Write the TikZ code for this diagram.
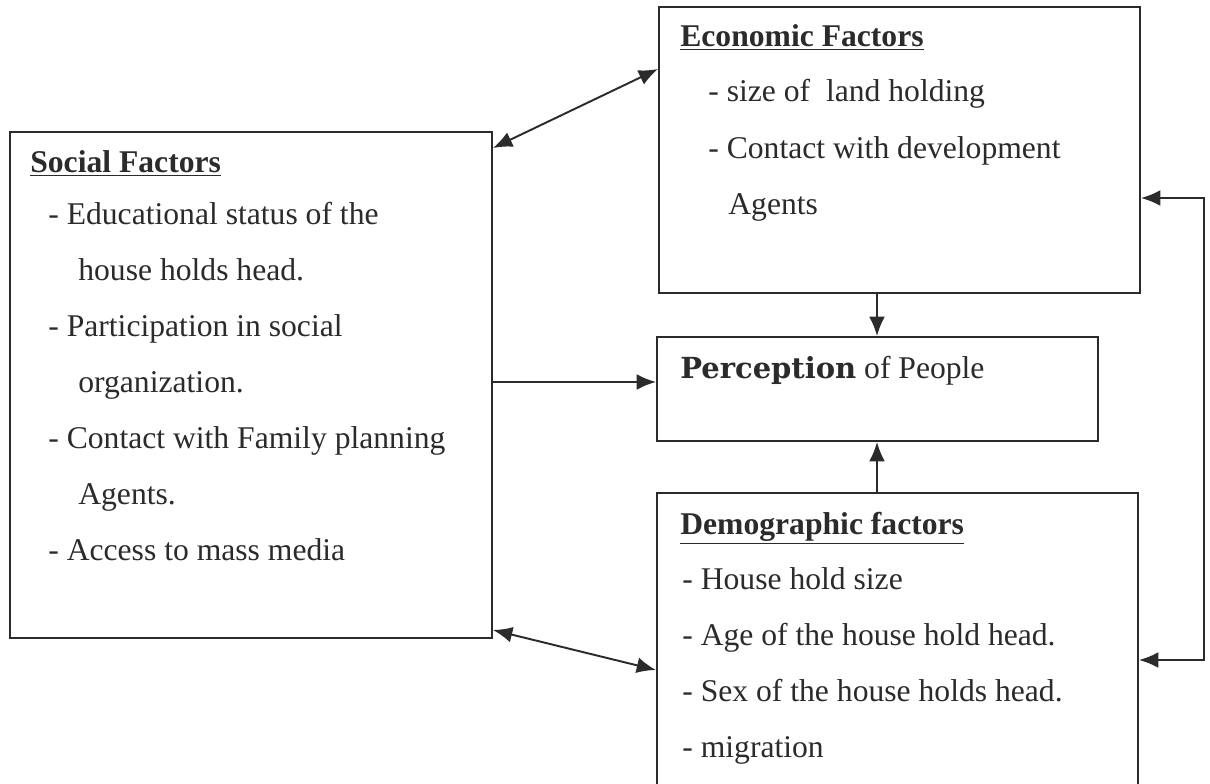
\documentclass[tikz,border=0pt]{standalone}
\usepackage{fontspec}
\setmainfont{Liberation Serif}
\newfontfamily\slabfont{DejaVu Serif}
\usetikzlibrary{arrows.meta,fit}
\definecolor{ink}{HTML}{2B2B2B}
\tikzset{
  box/.style={draw=ink, line width=1.1pt, inner sep=0pt},
  txt/.style={text=ink, font=\fontsize{18}{20}\selectfont, inner sep=0pt, anchor=base west},
  head/.style={txt, font=\fontsize{18}{20}\selectfont\bfseries},
  link/.style={draw=ink, line width=1.1pt, -{Latex[length=11pt,width=9pt]}},
  twolink/.style={draw=ink, line width=1.1pt, {Latex[length=11pt,width=9pt]}-{Latex[length=11pt,width=9pt]}}
}

\begin{document}
\begin{tikzpicture}[x=0.02cm,y=-0.02cm]
\fill[white] (0,0) rectangle (1210,784);
\clip (0,0) rectangle (1210,784);

% Boxes
\node[box, fit={(10,132) (492,638)}] (social) {};
\node[box, fit={(659,7) (1140,293)}] (econ) {};
\node[box, fit={(657,337) (1098,441)}] (perc) {};
\node[box, fit={(657,493) (1138,820)}] (demo) {};

% Social factors
\node[head] (sochead) at (30,173) {\underline{Social Factors}};
\node[txt] (soc1) at (48,224) {- Educational status of the};
\node[txt] (soc2) at (78,280) {house holds head.};
\node[txt] (soc3) at (48,336) {- Participation in social};
\node[txt] (soc4) at (78,392) {organization.};
\node[txt] (soc5) at (48,448) {- Contact with Family planning};
\node[txt] (soc6) at (78,504) {Agents.};
\node[txt] (soc7) at (48,560) {- Access to mass media};

% Economic factors
\node[head] (ecohead) at (680,47) {\underline{Economic Factors}};
\node[txt] (eco1) at (708,102) {- size of\ \ land holding};
\node[txt] (eco2) at (708,158) {- Contact with development};
\node[txt] (eco3) at (728,214) {Agents};

% Perception
\node[txt] (perctext) at (680,378) {{\slabfont\fontsize{16.5}{18}\selectfont\bfseries Perception} of People};

% Demographic factors
\node[head] (demhead) at (680,534) {\underline{Demographic factors}};
\node[txt] (dem1) at (682,589) {- House hold size};
\node[txt] (dem2) at (682,645) {- Age of the house hold head.};
\node[txt] (dem3) at (682,701) {- Sex of the house holds head.};
\node[txt] (dem4) at (682,757) {- migration};

% Arrows
\draw[twolink] (social.east |- 0,148) -- (econ.west |- 0,69);
\draw[twolink] (social.east |- 0,630) -- (demo.west |- 0,670);
\draw[link] (social.east |- 0,382) -- (perc.west |- 0,382);
\draw[link] (econ.south -| 877,0) -- (perc.north -| 877,0);
\draw[link] (demo.north -| 877,0) -- (perc.south -| 877,0);

% Feedback loop
\coordinate (looptop) at (1204,198);
\coordinate (loopbot) at (1204,660);
\draw[twolink] (econ.east |- looptop) -- (looptop) -- (loopbot) -- (demo.east |- loopbot);

\end{tikzpicture}
\end{document}
